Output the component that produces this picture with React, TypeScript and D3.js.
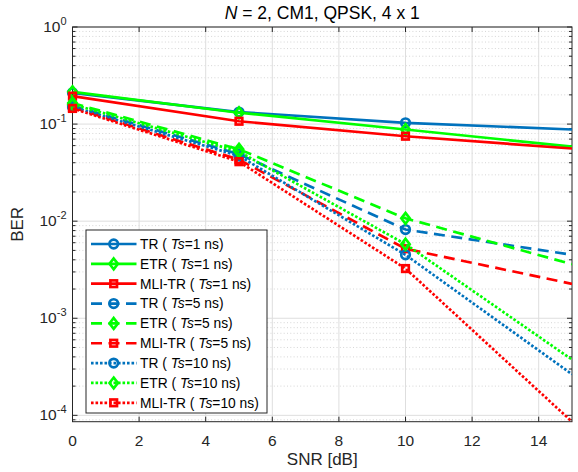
import React from 'react';
import * as d3 from 'd3';

// ---- data ----
const snr = [0, 5, 10, 15];
const markerSnr = [0, 5, 10];
const trTs1 = [0.21, 0.133, 0.103, 0.088];
const etrTs1 = [0.215, 0.131, 0.088, 0.0585];
const mliTs1 = [0.194, 0.107, 0.075, 0.056];
const trTs5 = [0.155, 0.049, 0.0082, 0.0045];
const etrTs5 = [0.165, 0.055, 0.0107, 0.0036];
const mliTs5 = [0.148, 0.043, 0.0052, 0.00226];
const trTs10 = [0.15, 0.047, 0.0045, 0.000265];
const etrTs10 = [0.16, 0.052, 0.0058, 0.000375];
const mliTs10 = [0.145, 0.041, 0.00325, 0.000086];
const xTicks = [0, 2, 4, 6, 8, 10, 12, 14];
const yTickExps = [0, -1, -2, -3, -4];

const W = 578;
const H = 472;
const L = 72.5, R = 572, T = 27, B = 421.7;

const COLORS: Record<string, string> = { TR: '#0072BD', ETR: '#00FF00', 'MLI-TR': '#FF0000' };
const DASH: Record<number, string | undefined> = { 1: undefined, 5: '11 6.5', 10: '2.6 1.9' };
const LW = 2.67;

const seriesData: { scheme: string; ts: number; values: number[] }[] = [
  { scheme: 'TR', ts: 1, values: trTs1 },
  { scheme: 'ETR', ts: 1, values: etrTs1 },
  { scheme: 'MLI-TR', ts: 1, values: mliTs1 },
  { scheme: 'TR', ts: 5, values: trTs5 },
  { scheme: 'ETR', ts: 5, values: etrTs5 },
  { scheme: 'MLI-TR', ts: 5, values: mliTs5 },
  { scheme: 'TR', ts: 10, values: trTs10 },
  { scheme: 'ETR', ts: 10, values: etrTs10 },
  { scheme: 'MLI-TR', ts: 10, values: mliTs10 },
];

const allVals = seriesData.flatMap((s) => s.values);
const yMin = d3.min(allVals) as number;

const x = d3.scaleLinear().domain([0, 15]).range([L, R]);
const y = d3.scaleLog().domain([yMin, 1]).range([B, T]);

function Marker({ scheme, cx, cy, color }: { scheme: string; cx: number; cy: number; color: string }) {
  if (scheme === 'TR') {
    return <circle cx={cx} cy={cy} r={4.3} fill="none" stroke={color} strokeWidth={LW} />;
  }
  if (scheme === 'ETR') {
    const hw = 4.2, hh = 5.4;
    return (
      <path
        d={`M${cx},${cy - hh}L${cx + hw},${cy}L${cx},${cy + hh}L${cx - hw},${cy}Z`}
        fill="none"
        stroke={color}
        strokeWidth={LW}
      />
    );
  }
  const s = 3.3;
  return <rect x={cx - s} y={cy - s} width={2 * s} height={2 * s} fill="none" stroke={color} strokeWidth={LW} />;
}

export default function App() {
  const line = d3
    .line<[number, number]>()
    .x((d) => x(d[0]))
    .y((d) => y(d[1]));

  const minorVals: number[] = [];
  for (let k = -5; k <= -1; k++) {
    for (let m = 2; m <= 9; m++) {
      const v = m * Math.pow(10, k);
      if (v > yMin && v < 1) minorVals.push(v);
    }
  }
  const majorVals = yTickExps.map((e) => Math.pow(10, e));
  const axisColor = '#262626';
  const font = '"Liberation Sans", Arial, Helvetica, sans-serif';

  const legX = 86, legY = 230, legW = 181, legH = 183;
  const rowH = 19.85;

  return (
    <svg width={W} height={H} style={{ position: 'absolute', left: 0, top: 0, background: '#fff' }} fontFamily={font}>
      <defs>
        <clipPath id="plotclip">
          <rect x={L} y={T} width={R - L} height={B - T} />
        </clipPath>
      </defs>
      <rect x={0} y={0} width={W} height={H} fill="#fff" />
      {/* minor grid */}
      {minorVals.map((v, i) => (
        <line key={'mg' + i} x1={L} x2={R} y1={y(v)} y2={y(v)} stroke="#c4c4c4" strokeWidth={0.7} strokeDasharray="1 2.3" />
      ))}
      {/* major grid */}
      {xTicks.map((t) => (
        <line key={'gx' + t} x1={x(t)} x2={x(t)} y1={T} y2={B} stroke="#dedede" strokeWidth={1} />
      ))}
      {majorVals.map((v, i) => (
        <line key={'gy' + i} x1={L} x2={R} y1={y(v)} y2={y(v)} stroke="#dedede" strokeWidth={1} />
      ))}
      {/* axes box */}
      <rect x={L} y={T} width={R - L} height={B - T} fill="none" stroke={axisColor} strokeWidth={1} />
      {/* x ticks */}
      {xTicks.map((t) => (
        <g key={'xt' + t}>
          <line x1={x(t)} x2={x(t)} y1={B} y2={B - 5} stroke={axisColor} strokeWidth={1} />
          <line x1={x(t)} x2={x(t)} y1={T} y2={T + 5} stroke={axisColor} strokeWidth={1} />
          <text x={x(t)} y={B + 24} fontSize={15.5} textAnchor="middle" fill={axisColor}>
            {t}
          </text>
        </g>
      ))}
      {/* y ticks */}
      {majorVals.map((v, i) => (
        <g key={'yt' + i}>
          <line x1={L} x2={L + 5} y1={y(v)} y2={y(v)} stroke={axisColor} strokeWidth={1} />
          <line x1={R} x2={R - 5} y1={y(v)} y2={y(v)} stroke={axisColor} strokeWidth={1} />
          <text x={L - 6} y={y(v) + 5} fontSize={15.5} textAnchor="end" fill={axisColor}>
            10
            <tspan fontSize={11} dy={-7}>
              {String(yTickExps[i])}
            </tspan>
          </text>
        </g>
      ))}
      {minorVals.map((v, i) => (
        <g key={'ymt' + i}>
          <line x1={L} x2={L + 3} y1={y(v)} y2={y(v)} stroke={axisColor} strokeWidth={1} />
          <line x1={R} x2={R - 3} y1={y(v)} y2={y(v)} stroke={axisColor} strokeWidth={1} />
        </g>
      ))}
      {/* axis labels */}
      <text x={(L + R) / 2} y={465} fontSize={17} textAnchor="middle" fill={axisColor}>
        SNR [dB]
      </text>
      <text
        transform={`translate(${23},${(T + B) / 2}) rotate(-90)`}
        fontSize={17}
        textAnchor="middle"
        fill={axisColor}
      >
        BER
      </text>
      {/* title */}
      <text x={(L + R) / 2} y={19} fontSize={17.5} textAnchor="middle" fill="#000">
        <tspan fontStyle="italic">N</tspan> = 2, CM1, QPSK, 4 x 1
      </text>
      {/* series */}
      {seriesData.map((s, i) => {
        const color = COLORS[s.scheme];
        const pts: [number, number][] = snr.map((v, j) => [v, s.values[j]]);
        return (
          <g key={'s' + i}>
            <path
              d={line(pts) || ''}
              fill="none"
              stroke={color}
              strokeWidth={LW}
              strokeDasharray={DASH[s.ts]}
              clipPath="url(#plotclip)"
            />
            {pts
              .filter((p) => markerSnr.includes(p[0]))
              .map((p, j) => (
                <Marker key={j} scheme={s.scheme} cx={x(p[0])} cy={y(p[1])} color={color} />
              ))}
          </g>
        );
      })}
      {/* legend */}
      <rect x={legX} y={legY} width={legW} height={legH} fill="#fff" stroke={axisColor} strokeWidth={1} />
      {seriesData.map((s, i) => {
        const cy = legY + 14 + i * rowH;
        const color = COLORS[s.scheme];
        return (
          <g key={'lg' + i}>
            <line x1={91} x2={136.5} y1={cy} y2={cy} stroke={color} strokeWidth={LW} strokeDasharray={DASH[s.ts]} />
            <Marker scheme={s.scheme} cx={113.7} cy={cy} color={color} />
            <text x={140} y={cy + 4.8} fontSize={13.8} fill="#000">
              {s.scheme} ({' '}
              <tspan fontStyle="italic">Ts</tspan>={s.ts} ns)
            </text>
          </g>
        );
      })}
    </svg>
  );
}
